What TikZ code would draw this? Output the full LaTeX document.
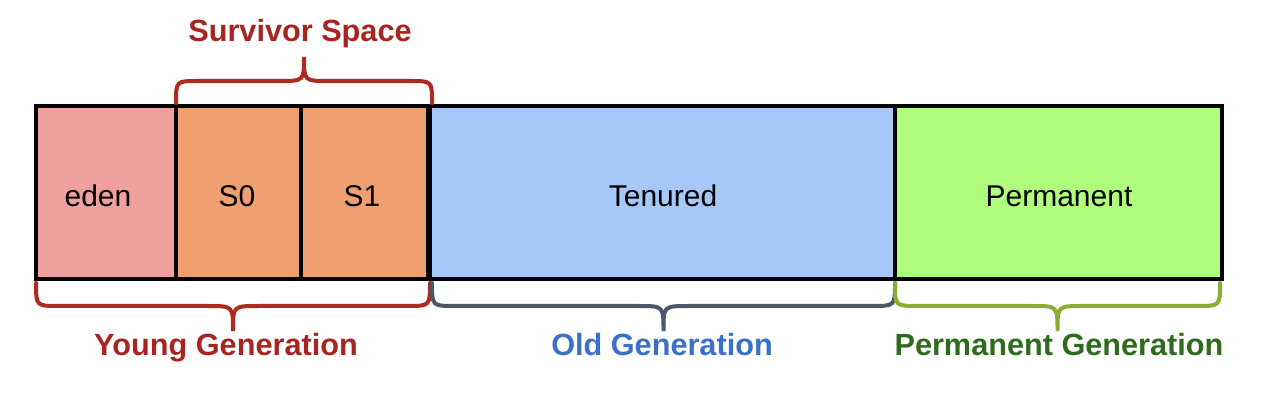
\documentclass[tikz,border=0pt]{standalone}
\usepackage{fontspec}
\setmainfont{Liberation Sans}
\definecolor{edenc}{HTML}{F0A09E}
\definecolor{survc}{HTML}{F0A070}
\definecolor{tenc}{HTML}{A5C8F8}
\definecolor{permc}{HTML}{B0FC7C}
\definecolor{redtxt}{HTML}{A82420}
\definecolor{redbr}{HTML}{B02A20}
\definecolor{bluetxt}{HTML}{3A70C8}
\definecolor{bluebr}{HTML}{4A5868}
\definecolor{greentxt}{HTML}{2E6B1C}
\definecolor{greenbr}{HTML}{8AAE2E}
\newcommand\mybrace[6]{% x1, x2, yend, yline, ytip, style
  \draw[#6] (#1,#3) .. controls (#1,#4) .. ({#1+abs(#4-#3)},#4)
    -- ({(#1+#2)/2-abs(#5-#4)},#4) .. controls ({(#1+#2)/2},#4) .. ({(#1+#2)/2},#5)
    .. controls ({(#1+#2)/2},#4) .. ({(#1+#2)/2+abs(#5-#4)},#4)
    -- ({#2-abs(#4-#3)},#4) .. controls (#2,#4) .. (#2,#3);}
\begin{document}
\begin{tikzpicture}[x=0.75pt,y=-0.75pt,
  cell/.style={draw=black,line width=3pt,inner sep=0pt,minimum height=129.75pt},
  celltxt/.style={anchor=base,font=\fontsize{22.5}{27}\selectfont,text=black},
  gentxt/.style={anchor=base,font=\fontsize{23}{27}\selectfont\bfseries},
  bracestyle/.style={line width=3pt,line cap=round}]
\useasboundingbox (0,0) rectangle (1266,416);
\node[cell,fill=edenc,minimum width=105pt] (eden) at (106,192.5) {};
\node[cell,fill=survc,minimum width=93.75pt] (s0) at (238.5,192.5) {};
\node[cell,fill=survc,minimum width=95.25pt] (s1) at (364.5,192.5) {};
\node[cell,fill=tenc,minimum width=348.75pt] (ten) at (662.5,192.5) {};
\node[cell,fill=permc,minimum width=245.25pt] (perm) at (1058.5,192.5) {};
\node[celltxt] (tEden) at (98,207) {eden};
\node[celltxt] (tS0) at (237,207) {S0};
\node[celltxt] (tS1) at (362,207) {S1};
\node[celltxt] (tTen) at (663,207) {Tenured};
\node[celltxt] (tPerm) at (1059,207) {Permanent};
\mybrace{176}{432}{103}{81}{57}{bracestyle,draw=redbr}
\mybrace{36}{430}{283}{306}{331}{bracestyle,draw=redbr}
\mybrace{432}{895}{283}{306}{331}{bracestyle,draw=bluebr}
\mybrace{895}{1220}{283}{306}{331}{bracestyle,draw=greenbr}
\node[gentxt,text=redtxt] (surv) at (300,42) {Survivor Space};
\node[gentxt,text=redtxt] (young) at (226,355) {Young Generation};
\node[gentxt,text=bluetxt] (old) at (662,355) {Old Generation};
\node[gentxt,text=greentxt] (permg) at (1059,355) {Permanent Generation};
\end{tikzpicture}
\end{document}
